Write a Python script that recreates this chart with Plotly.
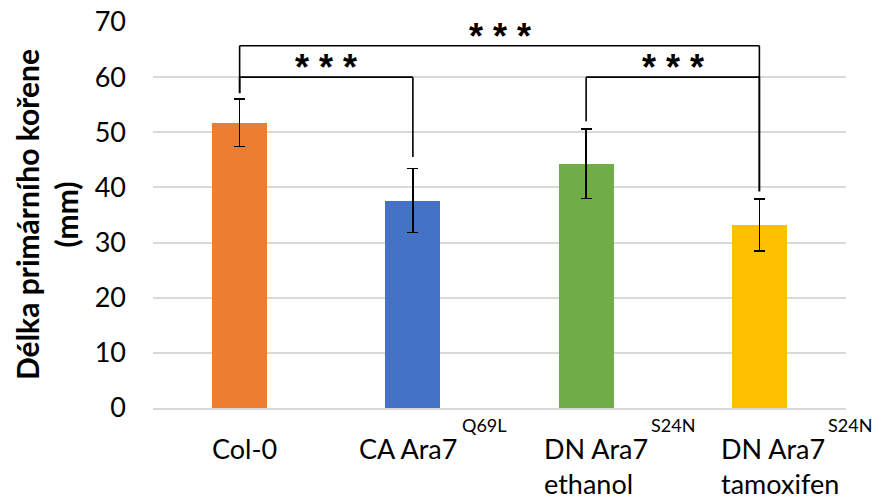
import plotly.graph_objects as go

# ---- data ----
categories = ["Col-0", "CA Ara7", "DN Ara7<br>ethanol", "DN Ara7<br>tamoxifen"]
superscripts = ["", "Q69L", "S24N", "S24N"]
means = [51.7, 37.6, 44.3, 33.2]
errors = [4.3, 5.8, 6.3, 4.7]
y_ticks = [0, 10, 20, 30, 40, 50, 60, 70]
y_title = "<b>Délka primárního kořene<br>(mm)</b>"

# significance brackets: (from category, to category), bracket height, leg ends, label
bracket_pairs = [(0, 3), (0, 1), (2, 3)]
bracket_heights = [65.7, 60.0, 60.0]
bracket_leg_ends = [(57.1, 39.3), (57.1, 45.5), (52.0, 39.3)]
bracket_labels = ["* * *", "* * *", "* * *"]

# ---- styles ----
colors = ["#ED7D31", "#4472C4", "#70AD47", "#FFC000"]
FONT = "Lato"
label_xshift = [-30, -56, -44, -40]
sup_xshift = [0, 47, 63, 67]

fig = go.Figure()
fig.add_trace(go.Bar(
    x=list(range(len(categories))), y=means, width=0.317,
    marker=dict(color=colors, line=dict(width=0)),
    error_y=dict(type="data", array=errors, color="black", thickness=1.5, width=5.5),
    hoverinfo="skip",
))

shapes = []
annotations = []
for (a, b), h, (la, lb), lab in zip(bracket_pairs, bracket_heights, bracket_leg_ends, bracket_labels):
    ln = dict(color="black", width=1.6)
    shapes.append(dict(type="line", xref="x", yref="y", x0=a, x1=a, y0=la, y1=h, line=ln))
    shapes.append(dict(type="line", xref="x", yref="y", x0=a, x1=b, y0=h, y1=h, line=ln))
    shapes.append(dict(type="line", xref="x", yref="y", x0=b, x1=b, y0=lb, y1=h, line=ln))
    annotations.append(dict(x=(a + b) / 2, y=h, xref="x", yref="y", text=f"<b>{lab}</b>",
                            showarrow=False, xanchor="center", yanchor="bottom", yshift=-13,
                            font=dict(family="Liberation Sans", size=36, color="black")))

for i, (cat, sup) in enumerate(zip(categories, superscripts)):
    annotations.append(dict(x=i, y=0, xref="x", yref="paper", text=cat, showarrow=False,
                            xanchor="left", yanchor="top", align="left", xshift=label_xshift[i],
                            yshift=-22, font=dict(family=FONT, size=27, color="black")))
    if sup:
        annotations.append(dict(x=i, y=0, xref="x", yref="paper", text=sup, showarrow=False,
                                xanchor="left", yanchor="top", xshift=sup_xshift[i], yshift=-4,
                                font=dict(family=FONT, size=18, color="black")))

annotations.append(dict(x=0, y=0.5, xref="paper", yref="paper", text=y_title, showarrow=False,
                        textangle=-90, xanchor="center", yanchor="middle", xshift=-107,
                        font=dict(family=FONT, size=30, color="black")))

fig.update_layout(
    width=875, height=500,
    margin=dict(l=153, r=29, t=22, b=92),
    plot_bgcolor="white", paper_bgcolor="white",
    showlegend=False, bargap=0,
    shapes=shapes, annotations=annotations,
    font=dict(family=FONT, size=27, color="black"),
)
fig.update_xaxes(range=[-0.5, 3.5], showticklabels=False, showgrid=False, automargin=False,
                 showline=True, linecolor="#d9d9d9", linewidth=1.5, ticks="", zeroline=False)
fig.update_yaxes(range=[0, 70], tickvals=y_ticks, showgrid=True, gridcolor="#d9d9d9", automargin=False,
                 gridwidth=1.5, zeroline=False, showline=False, ticks="", ticklabelstandoff=26,
                 tickfont=dict(family=FONT, size=27, color="black"))

fig.write_html("out.html")
